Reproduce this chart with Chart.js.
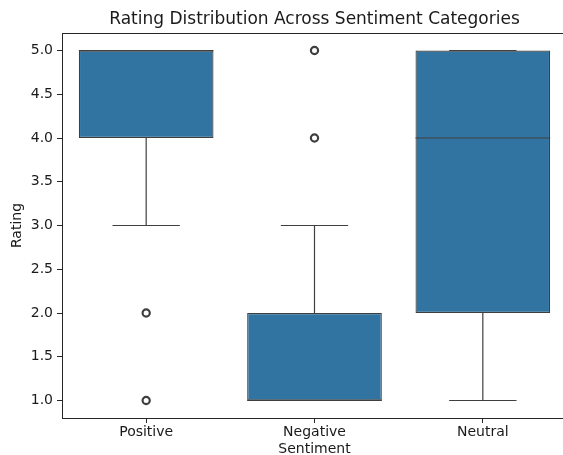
<!DOCTYPE html>
<html>
<head>
    <title>Rating Distribution Across Sentiment Categories</title>
    <script src="https://cdn.jsdelivr.net/npm/chart.js@4.4.1/dist/chart.umd.min.js"></script>
    <style>
        body { margin: 0; width: 563px; height: 455px; overflow: hidden; background: #fff; }
        #wrap { width: 600px; height: 455px; }
    </style>
</head>
<body>
    <div id="wrap"><canvas id="grafico"></canvas></div>
    <script>
        // box plot summary per sentiment
        const categories = ['Positive', 'Negative', 'Neutral'];
        const q1 = [4, 1, 2];
        const median = [5, 1, 4];
        const q3 = [5, 2, 5];
        const whiskerLow = [3, 1, 1];
        const whiskerHigh = [5, 3, 5];
        const outlierCats = ['Positive', 'Positive', 'Negative', 'Negative'];
        const outlierValues = [2, 1, 4, 5];
        const yTicks = [1.0, 1.5, 2.0, 2.5, 3.0, 3.5, 4.0, 4.5, 5.0];

        const boxColor = '#3274a1';
        const lineColor = '#3f3f3f';
        const axisColor = '#262626';
        const textColor = '#1a1a1a';
        const font = 'DejaVu Sans';

        // whiskers, caps, medians, top spine and title
        const boxPlugin = {
            id: 'boxParts',
            afterDatasetsDraw(chart) {
                const ctx = chart.ctx;
                const x = chart.scales.x, y = chart.scales.y;
                const area = chart.chartArea;
                const catW = (area.right - area.left) / categories.length;
                ctx.save();
                ctx.strokeStyle = lineColor;
                ctx.lineWidth = 1.2;
                categories.forEach((c, i) => {
                    const cx = x.getPixelForValue(i);
                    const cap = catW * 0.2, half = catW * 0.4;
                    ctx.beginPath();
                    ctx.moveTo(cx, y.getPixelForValue(q3[i]));
                    ctx.lineTo(cx, y.getPixelForValue(whiskerHigh[i]));
                    ctx.moveTo(cx, y.getPixelForValue(q1[i]));
                    ctx.lineTo(cx, y.getPixelForValue(whiskerLow[i]));
                    ctx.moveTo(cx - cap, y.getPixelForValue(whiskerHigh[i]));
                    ctx.lineTo(cx + cap, y.getPixelForValue(whiskerHigh[i]));
                    ctx.moveTo(cx - cap, y.getPixelForValue(whiskerLow[i]));
                    ctx.lineTo(cx + cap, y.getPixelForValue(whiskerLow[i]));
                    ctx.moveTo(cx - half, y.getPixelForValue(median[i]));
                    ctx.lineTo(cx + half, y.getPixelForValue(median[i]));
                    ctx.stroke();
                });
                ctx.strokeStyle = axisColor;
                ctx.lineWidth = 1;
                ctx.beginPath();
                ctx.moveTo(area.left, area.top + 0.5);
                ctx.lineTo(area.right, area.top + 0.5);
                ctx.stroke();
                // title centred over the axes
                ctx.fillStyle = textColor;
                ctx.font = '17px "' + font + '"';
                ctx.textAlign = 'center';
                ctx.textBaseline = 'middle';
                ctx.fillText('Rating Distribution Across Sentiment Categories', (area.left + area.right) / 2, 20);
                ctx.restore();
            }
        };

        const ctx = document.getElementById('grafico').getContext('2d');
        new Chart(ctx, {
            type: 'bar',
            data: {
                labels: categories,
                datasets: [{
                    data: categories.map((c, i) => [q1[i], q3[i]]),
                    backgroundColor: boxColor,
                    borderColor: lineColor,
                    borderWidth: 1.2,
                    borderSkipped: false,
                    barPercentage: 0.8,
                    categoryPercentage: 1.0
                }, {
                    type: 'line',
                    data: outlierCats.map((c, i) => ({ x: c, y: outlierValues[i] })),
                    showLine: false,
                    pointRadius: 3.6,
                    pointBorderWidth: 2.2,
                    pointBorderColor: lineColor,
                    pointBackgroundColor: 'rgba(0,0,0,0)'
                }]
            },
            options: {
                responsive: true,
                maintainAspectRatio: false,
                animation: false,
                layout: { padding: { top: 33, right: 33, bottom: 0, left: 0 } },
                plugins: { legend: { display: false }, tooltip: { enabled: false } },
                scales: {
                    x: {
                        afterFit: s => { s.height = 37; },
                        grid: { drawOnChartArea: false, offset: false, tickLength: 5, color: axisColor },
                        border: { color: axisColor, width: 1 },
                        ticks: { color: textColor, padding: 1, font: { family: font, size: 14 } },
                        title: { display: true, text: 'Sentiment', color: textColor, padding: { top: 0, bottom: -3 }, font: { family: font, size: 14 } }
                    },
                    y: {
                        min: 0.8,
                        max: 5.2,
                        afterFit: s => { s.width = 62; },
                        afterBuildTicks: s => { s.ticks = yTicks.map(v => ({ value: v })); },
                        grid: { drawOnChartArea: false, tickLength: 5, color: axisColor },
                        border: { color: axisColor, width: 1 },
                        ticks: { color: textColor, padding: 4, font: { family: font, size: 14 }, callback: v => v.toFixed(1) },
                        title: { display: true, text: 'Rating', color: textColor, padding: { top: 9, bottom: 0 }, font: { family: font, size: 14 } }
                    }
                }
            },
            plugins: [boxPlugin]
        });
    </script>
</body>
</html>
